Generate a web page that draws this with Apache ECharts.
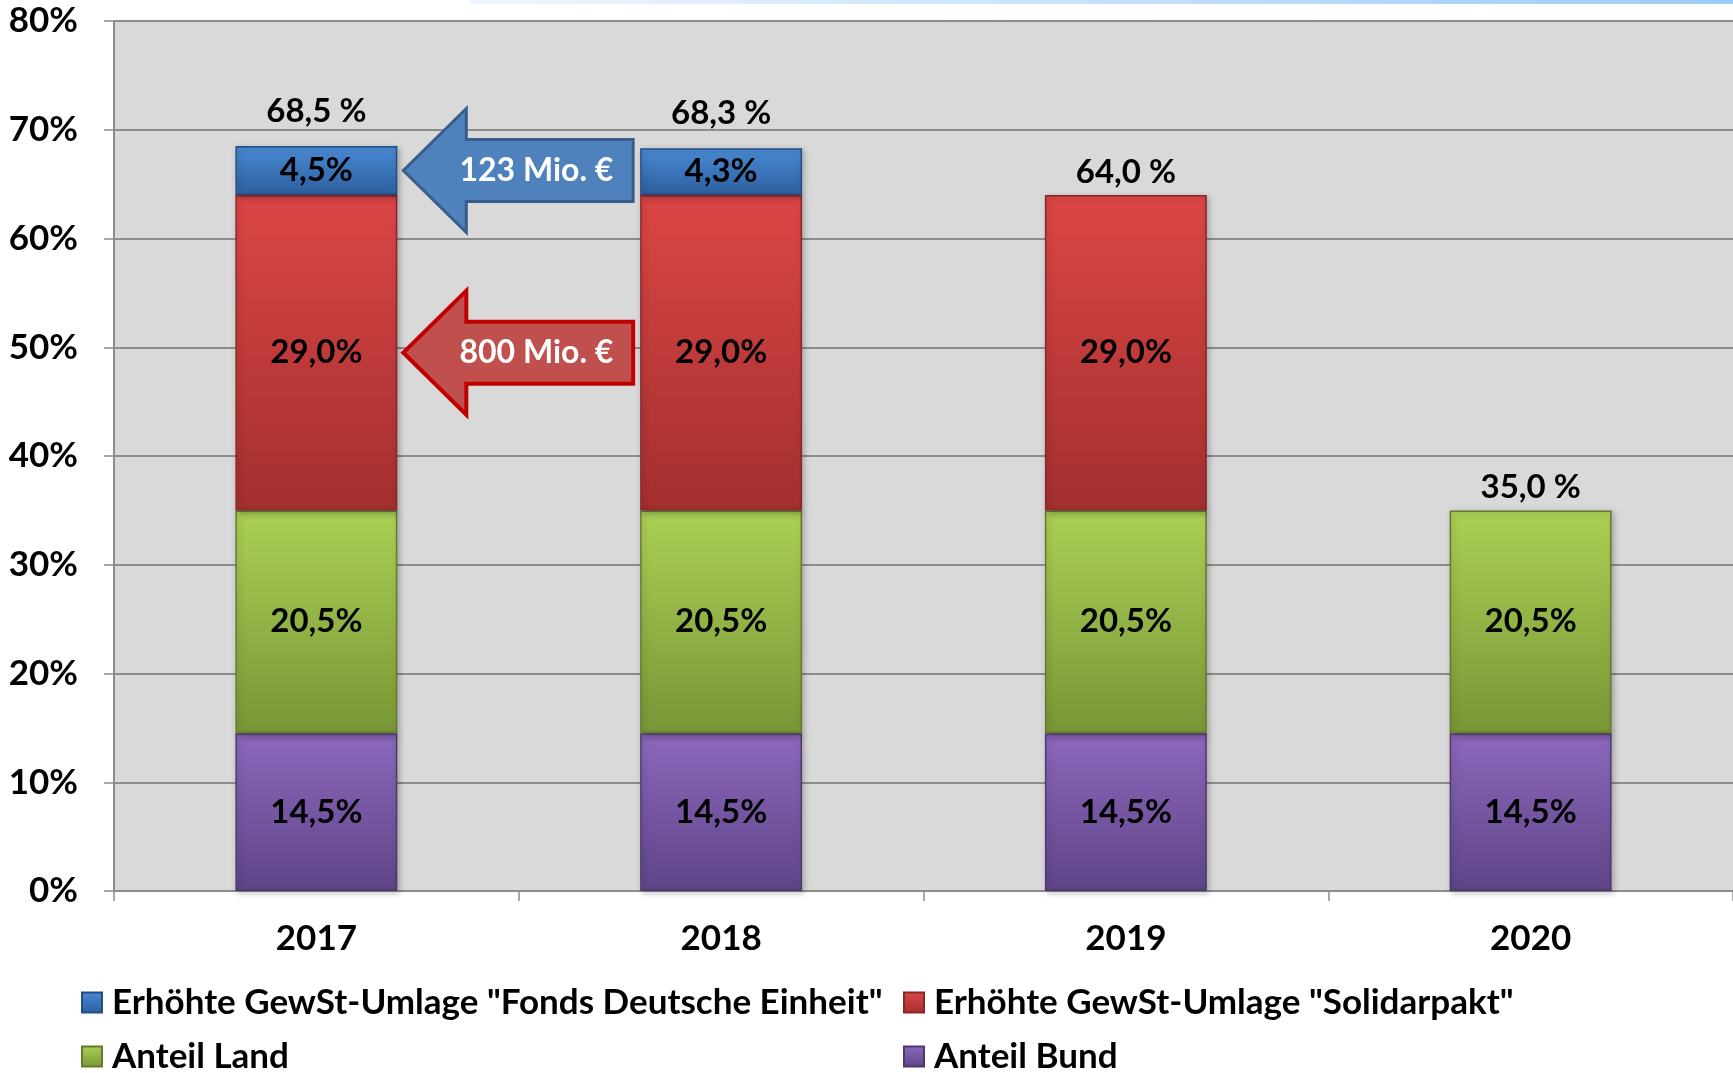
<!DOCTYPE html>
<html>
<head>
<meta charset="utf-8">
<script src="https://cdn.jsdelivr.net/npm/echarts@6/dist/echarts.min.js"></script>
<style>
  html, body { margin: 0; padding: 0; background: #fff; }
  #app { width: 1733px; height: 1073px; }
</style>
</head>
<body>
<div id="app"></div>
<script>
// Daten
const years = ['2017', '2018', '2019', '2020'];
const fondsValues = [4.5, 4.3, null, null];       // "Fonds Deutsche Einheit"
const solidarValues = [29.0, 29.0, 29.0, null];   // "Solidarpakt"
const landValues = [20.5, 20.5, 20.5, 20.5];
const bundValues = [14.5, 14.5, 14.5, 14.5];
const totalValues = [68.5, 68.3, 64.0, 35.0];
const arrowTexts = ['123 Mio. €', '800 Mio. €'];
const arrowLevels = [66.25, 49.5];  // Mitte des jeweiligen Segments 2017

const names = [
  'Erhöhte GewSt-Umlage "Fonds Deutsche Einheit"',
  'Erhöhte GewSt-Umlage "Solidarpakt"',
  'Anteil Land',
  'Anteil Bund'
];

const FONT = 'Lato';
const fmt = v => v.toFixed(1).replace('.', ',');

function grad(top, bottom) {
  return new echarts.graphic.LinearGradient(0, 0, 0, 1, [
    { offset: 0, color: top },
    { offset: 1, color: bottom }
  ]);
}

const segLabel = {
  show: true,
  position: 'inside',
  color: '#000',
  fontFamily: FONT,
  fontWeight: 'bold',
  fontSize: 33,
  formatter: p => fmt(p.value) + '%'
};

function barSeries(name, values, c1, c2, border) {
  return {
    name: name,
    type: 'bar',
    stack: 'total',
    barWidth: '40%',
    data: values,
    label: segLabel,
    itemStyle: {
      color: grad(c1, c2),
      borderColor: border,
      borderWidth: 1.5,
      shadowColor: 'rgba(0,0,0,0.25)',
      shadowBlur: 6,
      shadowOffsetX: 2,
      shadowOffsetY: 2
    }
  };
}

const legendBase = {
  icon: 'rect',
  itemWidth: 20,
  itemHeight: 20,
  itemGap: 10,
  textStyle: { fontFamily: FONT, fontWeight: 'bold', fontSize: 35, color: '#000', padding: [0, 0, 0, 5] }
};

const totalLabel = {
  show: true,
  position: 'top',
  color: '#000',
  opacity: 1,
  fontFamily: FONT,
  fontWeight: 'bold',
  fontSize: 33,
  formatter: p => fmt(p.value) + ' %'
};

const chart = echarts.init(document.getElementById('app'));

chart.setOption({
  animation: false,
  backgroundColor: '#fff',
  grid: {
    left: 114, right: 0, top: 21, bottom: 182,
    show: true, backgroundColor: '#d9d9d9', borderWidth: 0
  },
  legend: [
    Object.assign({ data: [names[0]], left: 76, top: 980 }, legendBase),
    Object.assign({ data: [names[1]], left: 898, top: 980 }, legendBase),
    Object.assign({ data: [names[2]], left: 76, top: 1034 }, legendBase),
    Object.assign({ data: [names[3]], left: 898, top: 1034 }, legendBase)
  ],
  xAxis: {
    type: 'category',
    data: years,
    axisLine: { lineStyle: { color: '#8c8c8c', width: 2 } },
    axisTick: { show: true, length: 10, lineStyle: { color: '#8c8c8c', width: 1.5 } },
    axisLabel: { margin: 30, color: '#000', fontFamily: FONT, fontWeight: 'bold', fontSize: 35 }
  },
  yAxis: {
    type: 'value',
    min: 0, max: 80, interval: 10,
    axisLine: { show: true, lineStyle: { color: '#8c8c8c', width: 2 } },
    axisTick: { show: true, length: 10, lineStyle: { color: '#8c8c8c', width: 1.5 } },
    splitLine: { lineStyle: { color: '#8c8c8c', width: 2 } },
    axisLabel: { margin: 36, color: '#000', fontFamily: FONT, fontWeight: 'bold', fontSize: 35, formatter: '{value}%' }
  },
  series: [
    barSeries(names[3], bundValues, '#8c68bd', '#5f4487', '#4e3870'),
    barSeries(names[2], landValues, '#abd155', '#789636', '#637c2c'),
    barSeries(names[1], solidarValues, '#dc4646', '#a32f2f', '#8a2626'),
    barSeries(names[0], fondsValues, '#4a8ad4', '#2c5f9e', '#234e84'),
    {
      name: 'Summe',
      type: 'scatter',
      symbolSize: 1,
      itemStyle: { color: 'rgba(0,0,0,0)', opacity: 1 },
      emphasis: { disabled: true },
      data: totalValues.map((v, i) => ({
        value: v,
        label: Object.assign({}, totalLabel, { distance: i < 2 ? 18 : 6 })
      })),
      label: totalLabel,
      z: 5
    }
  ]
});

// Pfeile zwischen 2017 und 2018, Position aus den Achsen berechnet
function drawArrows() {
  const c0 = chart.convertToPixel({ xAxisIndex: 0 }, years[0]);
  const c1 = chart.convertToPixel({ xAxisIndex: 0 }, years[1]);
  const band = c1 - c0;
  const tipX = c0 + band * 0.2 + 6;
  const endX = c1 - band * 0.2 - 7;
  const headX = tipX + 63;
  const styles = [
    { fill: '#4f81bd', stroke: '#385d8a', lineWidth: 3 },
    { fill: '#c0504d', stroke: '#c00000', lineWidth: 4 }
  ];
  const elements = [];
  arrowLevels.forEach((lvl, i) => {
    const y = chart.convertToPixel({ yAxisIndex: 0 }, lvl);
    elements.push({
      type: 'polygon',
      shape: {
        points: [
          [tipX, y], [headX, y - 62], [headX, y - 31], [endX, y - 31],
          [endX, y + 31], [headX, y + 31], [headX, y + 62]
        ]
      },
      style: styles[i],
      z: 10
    });
    elements.push({
      type: 'text',
      x: headX + (endX - headX) * 0.42,
      y: y,
      style: {
        text: arrowTexts[i],
        fill: '#fff',
        font: 'bold 32px ' + FONT,
        align: 'center',
        verticalAlign: 'middle'
      },
      z: 11
    });
  });
  // dünner Farbstreifen am oberen Rand
  elements.push({
    type: 'rect',
    shape: { x: 470, y: 0, width: 1263, height: 4 },
    style: {
      fill: new echarts.graphic.LinearGradient(0, 0, 1, 0, [
        { offset: 0, color: '#f0f6ff' },
        { offset: 1, color: '#9ccbf8' }
      ])
    },
    z: 1
  });
  chart.setOption({ graphic: elements });
}
drawArrows();
</script>
</body>
</html>
